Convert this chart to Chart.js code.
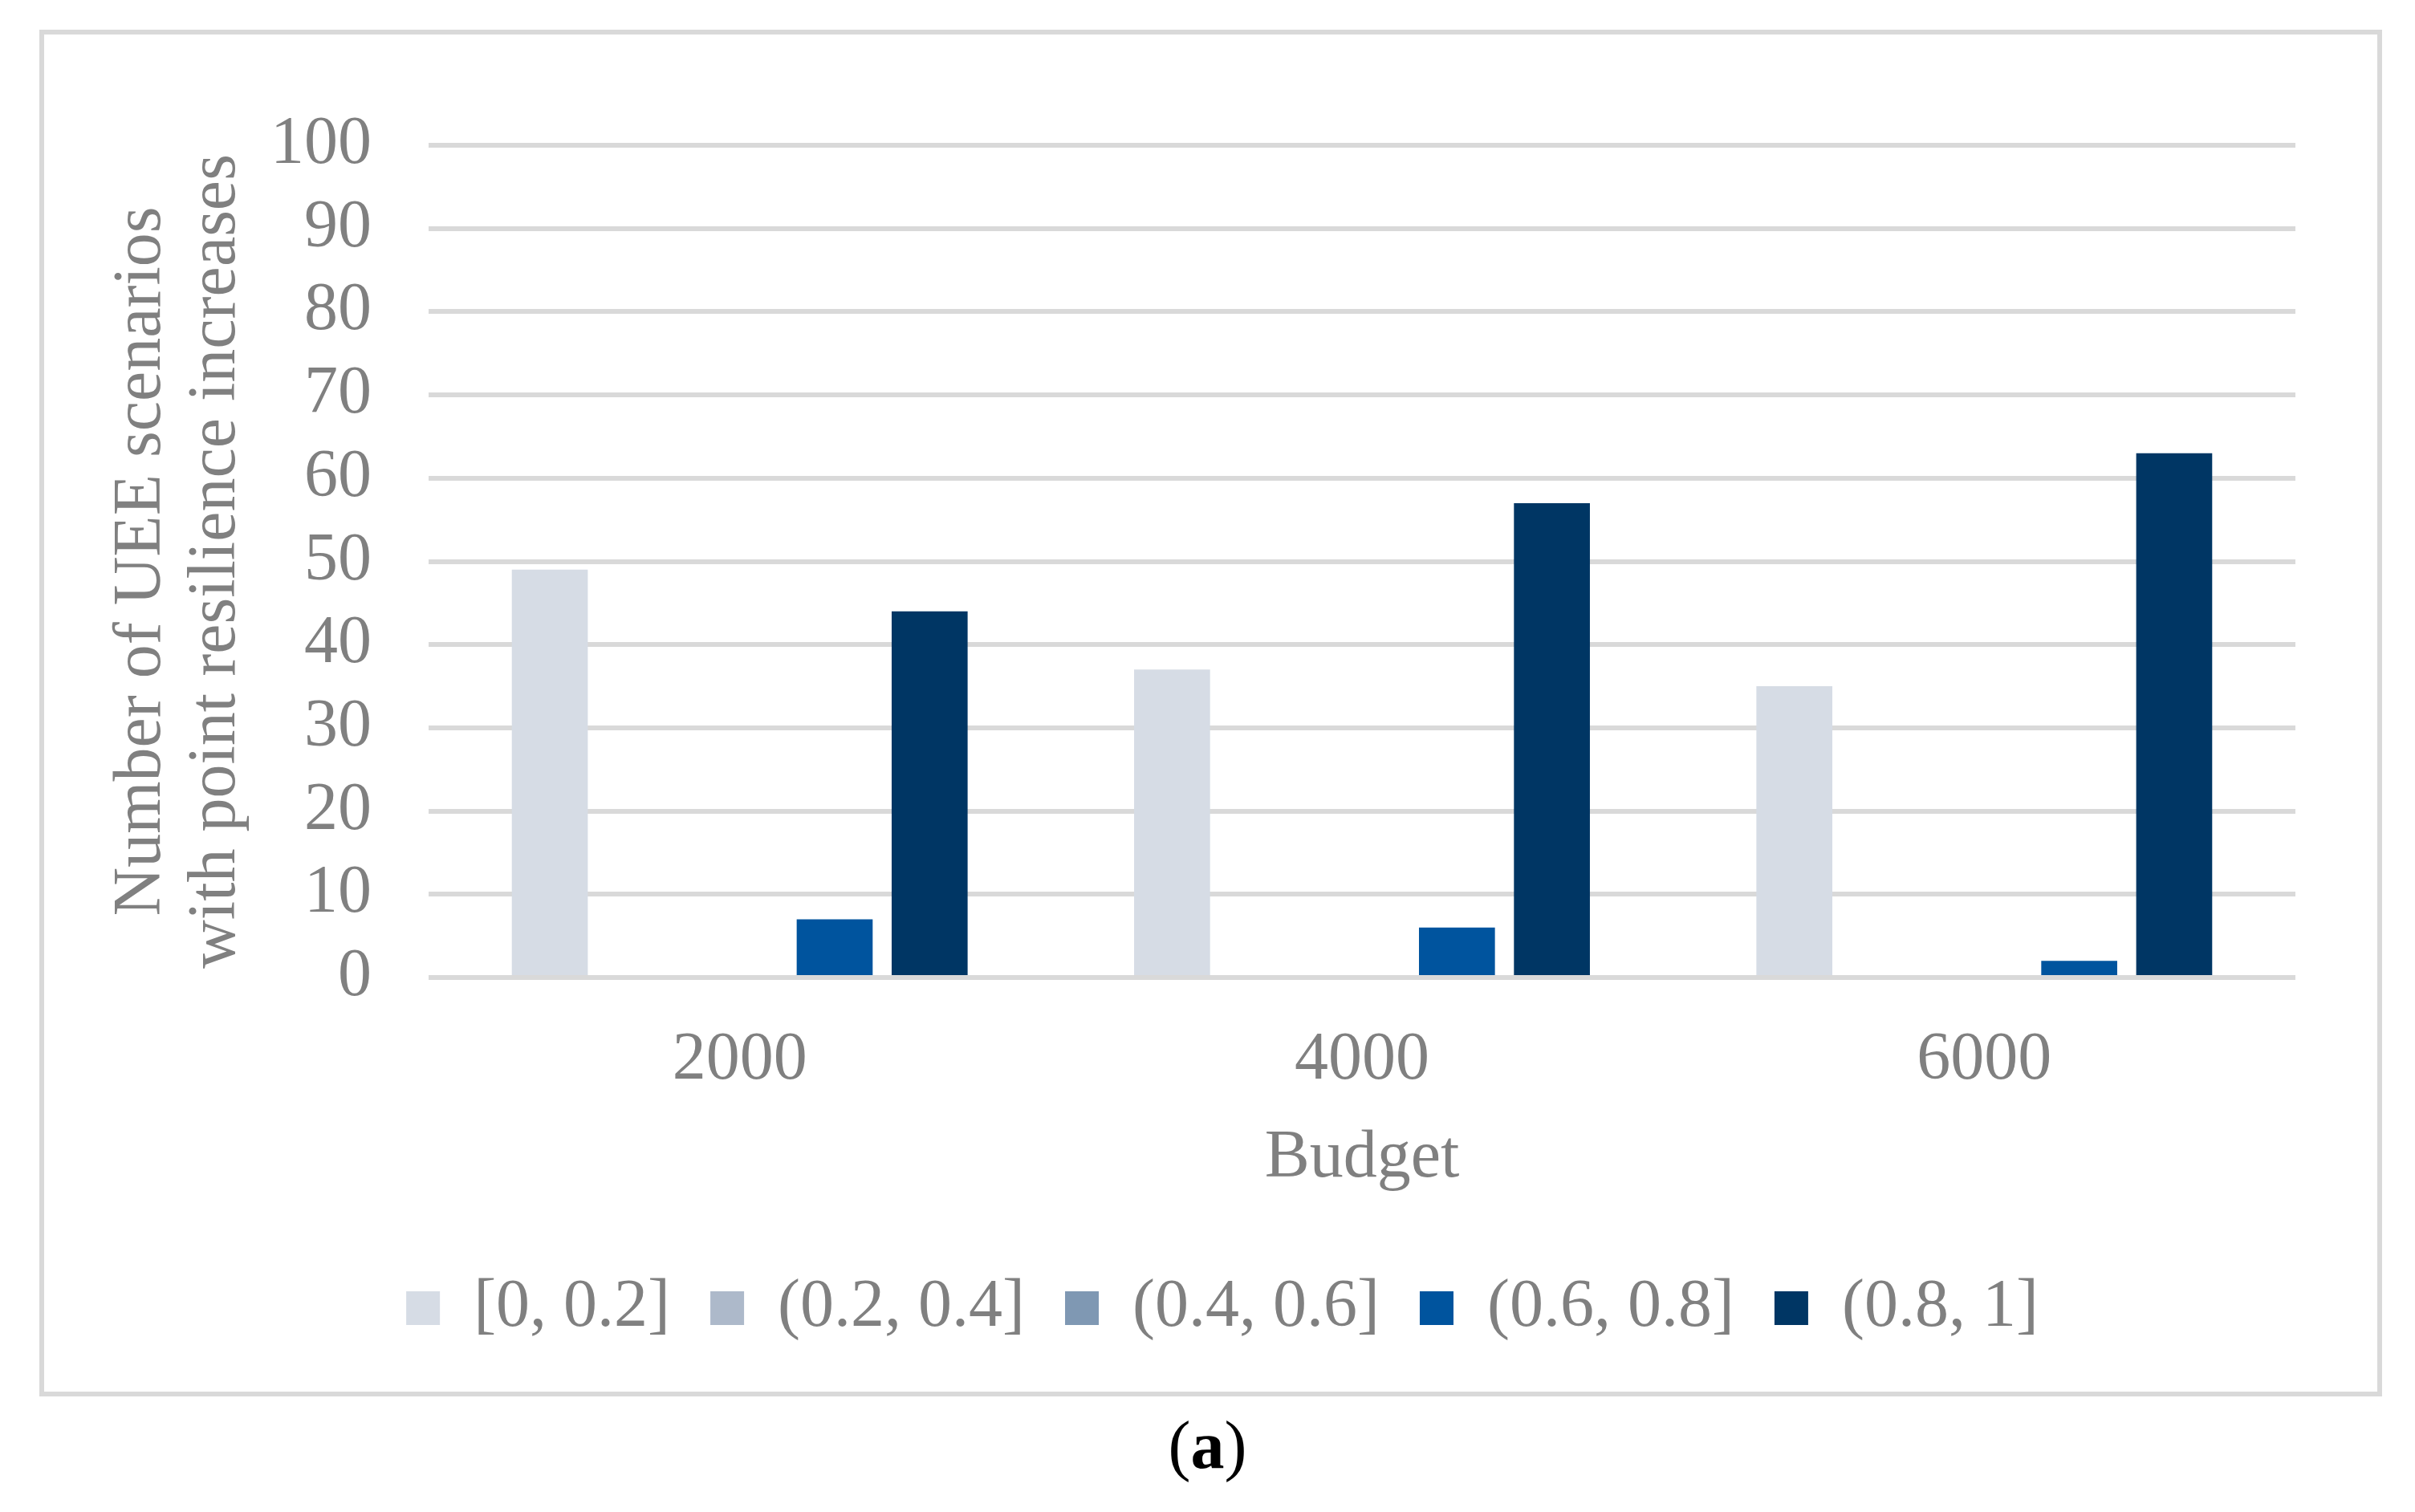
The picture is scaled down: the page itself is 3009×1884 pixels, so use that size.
<!DOCTYPE html>
<html>
<head>
<meta charset="utf-8">
<script src="https://cdn.jsdelivr.net/npm/chart.js@4.4.0/dist/chart.umd.min.js"></script>
<style>
  html, body { margin: 0; padding: 0; background: #fff; }
  #wrap { position: relative; width: 3009px; height: 1884px; }
  #caption {
    position: absolute; left: 0; top: 1752px; width: 3009px;
    text-align: center; font-family: "Liberation Serif", serif;
    font-size: 84px; color: #000;
  }
</style>
</head>
<body>
<div id="wrap">
  <canvas id="chart" width="3009" height="1884"></canvas>
  <div id="caption">(<b>a</b>)</div>
</div>
<script>
const budgets = ["2000", "4000", "6000"];
const ranges = ["[0, 0.2]", "(0.2, 0.4]", "(0.4, 0.6]", "(0.6, 0.8]", "(0.8, 1]"];
const r0to02 = [49, 37, 35];
const r02to04 = [0, 0, 0];
const r04to06 = [0, 0, 0];
const r06to08 = [7, 6, 2];
const r08to1 = [44, 57, 63];
const colors = ["#D6DCE5", "#ADB9CA", "#7F98B3", "#00549E", "#003664"];
const yTicks = [0, 10, 20, 30, 40, 50, 60, 70, 80, 90, 100];

Chart.defaults.font.family = "'Liberation Serif', serif";
Chart.defaults.color = "#808080";

// marco gris alrededor del gráfico
const frame = {
  id: "frame",
  beforeDraw(chart) {
    const c = chart.ctx;
    c.save();
    c.strokeStyle = "#D9D9D9";
    c.lineWidth = 6;
    c.strokeRect(52, 40, 2913, 1697);
    c.restore();
  },
};

// la leyenda del original está algo desplazada a la derecha
const legendShift = {
  id: "legendShift",
  afterLayout(chart) {
    chart.legend.left += 38;
    chart.legend.right += 38;
  },
};

const series = [r0to02, r02to04, r04to06, r06to08, r08to1];

new Chart(document.getElementById("chart").getContext("2d"), {
  type: "bar",
  data: {
    labels: budgets,
    datasets: series.map((vals, i) => ({
      label: ranges[i],
      data: vals,
      backgroundColor: colors[i],
      borderWidth: 0,
      categoryPercentage: 0.763,
      barPercentage: 0.8,
    })),
  },
  options: {
    responsive: false,
    devicePixelRatio: 1,
    animation: false,
    layout: { padding: { left: 110, right: 149, top: 181, bottom: 202 } },
    scales: {
      x: {
        grid: { display: false },
        border: { display: false },
        ticks: { font: { size: 84 }, padding: 46 },
        title: {
          display: true,
          text: "Budget",
          font: { size: 84, lineHeight: 1.1 },
          padding: { top: 0, bottom: 48 },
        },
        afterFit: (scale) => { scale.height = 320; },
      },
      y: {
        min: 0,
        max: 100,
        afterBuildTicks: (scale) => { scale.ticks = yTicks.map((v) => ({ value: v })); },
        grid: { color: "#D9D9D9", lineWidth: 6, drawTicks: false },
        border: { display: false },
        ticks: { font: { size: 84 }, padding: 71, autoSkip: false },
        title: {
          display: true,
          text: ["Number of UEE scenarios", "with point resilience increases"],
          font: { size: 84, lineHeight: 1.1 },
          padding: { top: 21, bottom: 0 },
        },
        afterFit: (scale) => { scale.width = 424; },
      },
    },
    plugins: {
      legend: {
        position: "bottom",
        labels: {
          font: { size: 84 },
          boxWidth: 42,
          boxHeight: 42,
          padding: 50,
          color: "#808080",
        },
      },
      tooltip: { enabled: false },
    },
  },
  plugins: [frame, legendShift],
});
</script>
</body>
</html>
